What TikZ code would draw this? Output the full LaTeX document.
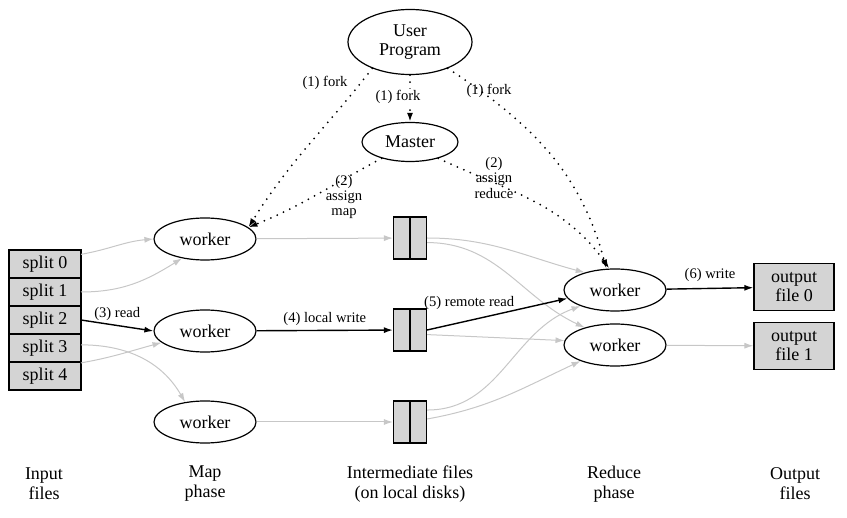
\documentclass[tikz,border=0pt]{standalone}
\usepackage{fontspec}
\setmainfont{Liberation Serif}
\usetikzlibrary{shapes.geometric,arrows.meta,positioning}

\definecolor{boxgray}{gray}{0.83}
\definecolor{linegray}{gray}{0.78}

\tikzset{
  worker/.style={ellipse, draw, line width=0.6pt, minimum width=51pt, minimum height=21pt, inner sep=0pt},
  splitbox/.style={rectangle, draw, line width=0.6pt, fill=boxgray, minimum width=36pt, minimum height=14pt, inner sep=0pt, outer sep=0pt},
  diskbox/.style={rectangle, draw, line width=0.6pt, fill=boxgray, minimum width=16.5pt, minimum height=21pt, inner sep=0pt,
    path picture={\draw[line width=0.6pt] (path picture bounding box.north) -- (path picture bounding box.south);}},
  outbox/.style={rectangle, draw, line width=0.6pt, fill=boxgray, minimum width=40pt, minimum height=23.5pt, inner sep=0pt, align=center},
  lbl/.style={font=\fontsize{7.3}{7.6}\selectfont, align=center, inner sep=0pt},
  phase/.style={align=center, inner sep=0pt, font=\fontsize{9}{10}\selectfont},
  >={Latex[length=4.5pt,width=3pt]},
  gedge/.style={->, draw=linegray, line width=0.5pt},
  bedge/.style={->, draw=black, line width=0.7pt},
  dedge/.style={->, draw=black, line width=1pt, line cap=round, dash pattern=on 0pt off 3.5pt},
}

\begin{document}
\begin{tikzpicture}[x=0.5pt, y=-0.5pt, font=\fontsize{9}{9.5}\selectfont]
\useasboundingbox (0,0) rectangle (847,518);

%% master side
\node[ellipse, draw, line width=0.6pt, minimum width=62pt, minimum height=32.5pt, inner sep=0pt, align=center] (user_prog) at (410,42) {User\\Program};
\node[ellipse, draw, line width=0.6pt, minimum width=48pt, minimum height=19.5pt, inner sep=0pt] (master) at (410,142) {Master};

%% input splits
\node[splitbox] (split_0) at (45,264) {split 0};
\node[splitbox, below=0pt of split_0] (split_1) {split 1};
\node[splitbox, below=0pt of split_1] (split_2) {split 2};
\node[splitbox, below=0pt of split_2] (split_3) {split 3};
\node[splitbox, below=0pt of split_3] (split_4) {split 4};

%% map workers and local disks
\node[worker] (worker_m1) at (205,239) {worker};
\node[worker] (worker_m2) at (205,331) {worker};
\node[worker] (worker_m3) at (205,422) {worker};

\node[diskbox] (disk_1) at (410,238) {};
\node[diskbox] (disk_2) at (410,330) {};
\node[diskbox] (disk_3) at (410,422) {};

%% reduce workers and output
\node[worker] (worker_r1) at (615,290) {worker};
\node[worker] (worker_r2) at (615,345) {worker};

\node[outbox] (out_0) at (794,287) {output\\file 0};
\node[outbox] (out_1) at (794,346) {output\\file 1};

% fork and assign
\draw[dedge] (user_prog.215) to[out=232, in=58] (worker_m1.15);
\draw[dedge] (user_prog) -- (master);
\draw[dedge] (user_prog.325) to[out=-33, in=105] (worker_r1.112);
\draw[dedge] (master.210) to[out=208, in=22] (worker_m1.15);
\draw[dedge] (master.330) to[out=-25, in=125] (worker_r1.105);

\node[lbl] (fork_l) at (325,83) {(1) fork};
\node[lbl, fill=white, inner sep=0.5pt] (fork_m) at (398,97) {(1) fork};
\node[lbl] (fork_r) at (489,91) {(1) fork};
\node[lbl] (assign_m) at (344,197) {(2)\\assign\\map};
\node[lbl] (assign_r) at (494,178) {(2)\\assign\\reduce};

% read splits
\draw[gedge] (split_0.15) to[out=10, in=185] (worker_m1.west);
\draw[gedge] (split_1.east) to[out=0, in=212] (worker_m1.220);
\draw[bedge] (split_2.east) -- node[lbl, above=2pt] (read_3) {(3) read} (worker_m2.west);
\draw[gedge] (split_3.5) to[out=0, in=120] (worker_m3.135);
\draw[gedge] (split_4.20) to[out=10, in=195] (worker_m2.195);

% local write
\draw[gedge] (worker_m1) -- (disk_1);
\draw[bedge] (worker_m2) -- node[lbl, above=2pt] (write_4) {(4) local write} (disk_2);
\draw[gedge] (worker_m3) -- (disk_3);

% remote read
\draw[gedge] (disk_1.east) to[out=0, in=165] (worker_r1.150);
\draw[gedge] (disk_1.-15) to[out=0, in=155] (worker_r2.150);
\draw[bedge] (disk_2.east) -- node[lbl, pos=0.3, above=5pt] (read_5) {(5) remote read} (worker_r1.190);
\draw[gedge] (disk_2.-15) -- (worker_r2.175);
\draw[gedge] (disk_3.35) to[out=0, in=200] (worker_r1.205);
\draw[gedge] (disk_3.10) to[out=10, in=205] (worker_r2.205);

% write output
\draw[bedge] (worker_r1) -- node[lbl, above=3pt] (write_6) {(6) write} (out_0);
\draw[gedge] (worker_r2) -- (out_1);

%% phase captions
\node[phase] (cap_in) at (44,484) {Input\\files};
\node[phase] (cap_map) at (205,484) {Map\\phase};
\node[phase] (cap_mid) at (410,484) {Intermediate files\\(on local disks)};
\node[phase] (cap_red) at (614,484) {Reduce\\phase};
\node[phase] (cap_out) at (795,484) {Output\\files};

\end{tikzpicture}
\end{document}
